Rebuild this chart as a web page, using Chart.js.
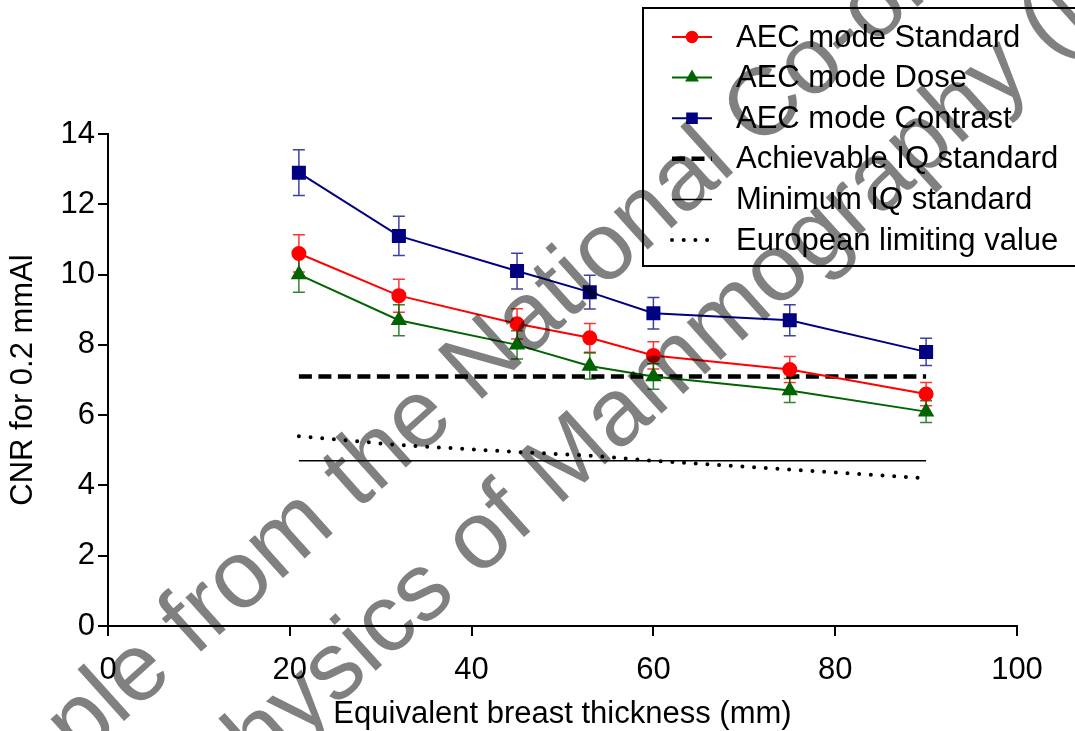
<!DOCTYPE html>
<html>
<head>
<meta charset="utf-8">
<title>CNR vs equivalent breast thickness</title>
<script src="https://cdn.jsdelivr.net/npm/chart.js@4.4.1/dist/chart.umd.min.js"></script>
<style>
  html, body { margin: 0; padding: 0; background: #fff; }
  #wrap { width: 1075px; height: 731px; position: relative; }
</style>
</head>
<body>
<div id="wrap"><canvas id="chart"></canvas></div>
<script>
// Values
const thickness = [21, 32, 45, 53, 60, 75, 90];
const cnrStandard = [10.6, 9.4, 8.6, 8.2, 7.7, 7.3, 6.6];
const cnrDose = [10.0, 8.7, 8.0, 7.4, 7.1, 6.7, 6.1];
const cnrContrast = [12.9, 11.1, 10.1, 9.5, 8.9, 8.7, 7.8];
const errStandard = [0.53, 0.47, 0.43, 0.41, 0.39, 0.37, 0.33];
const errDose = [0.50, 0.44, 0.40, 0.37, 0.36, 0.34, 0.31];
const errContrast = [0.65, 0.56, 0.51, 0.48, 0.45, 0.44, 0.39];

const limitThickness = [21, 90];
const achievableIQ = [7.1, 7.1];
const minimumIQ = [4.7, 4.7];
const europeanLimit = [5.4, 5.15, 4.95, 4.85, 4.7, 4.45, 4.2];

const xTicks = [0, 20, 40, 60, 80, 100];
const yTicks = [0, 2, 4, 6, 8, 10, 12, 14];

const seriesNames = [
    'AEC mode Standard',
    'AEC mode Dose',
    'AEC mode Contrast',
    'Achievable IQ standard',
    'Minimum IQ standard',
    'European limiting value'
];
const watermarkLines = [
    'Sample from the National Co-ordinating Centre for the',
    'Physics of Mammography (NCCPM)'
];

const FONT = '"Liberation Sans", Arial, sans-serif';

function pairs(xs, ys) {
    return xs.map((x, i) => ({ x: x, y: ys[i] }));
}

// error bars, drawn under the markers
const errorBars = {
    id: 'errorBars',
    beforeDatasetsDraw(chart) {
        const ctx = chart.ctx;
        const xs = chart.scales.x, ys = chart.scales.y;
        chart.data.datasets.forEach(ds => {
            if (!ds.errors) return;
            ctx.save();
            ctx.strokeStyle = ds.errorColor;
            ctx.lineWidth = 1.5;
            ds.data.forEach((p, j) => {
                const x = xs.getPixelForValue(p.x);
                const top = ys.getPixelForValue(p.y + ds.errors[j]);
                const bot = ys.getPixelForValue(p.y - ds.errors[j]);
                ctx.beginPath();
                ctx.moveTo(x, top); ctx.lineTo(x, bot);
                ctx.moveTo(x - 6, top); ctx.lineTo(x + 6, top);
                ctx.moveTo(x - 6, bot); ctx.lineTo(x + 6, bot);
                ctx.stroke();
            });
            ctx.restore();
        });
    }
};

// boxed legend in the top right corner
const boxLegend = {
    id: 'boxLegend',
    afterDatasetsDraw(chart) {
        const ctx = chart.ctx;
        ctx.save();
        ctx.fillStyle = '#fff';
        ctx.fillRect(643, 8, 440, 258);
        ctx.strokeStyle = '#000';
        ctx.lineWidth = 2;
        ctx.strokeRect(643, 8, 440, 258);
        ctx.font = '31px ' + FONT;
        ctx.textBaseline = 'middle';
        ctx.fillStyle = '#000';
        chart.data.datasets.forEach((ds, i) => {
            const y = 37 + i * 40.6;
            ctx.save();
            ctx.strokeStyle = ds.borderColor;
            ctx.lineWidth = ds.borderWidth;
            ctx.lineCap = ds.borderCapStyle || 'butt';
            ctx.setLineDash(ds.borderDash || []);
            ctx.beginPath();
            ctx.moveTo(672, y);
            ctx.lineTo(712, y);
            ctx.stroke();
            ctx.restore();
            if (ds.pointRadius > 0) {
                ctx.save();
                ctx.fillStyle = ds.pointBackgroundColor;
                ctx.strokeStyle = ds.pointBorderColor;
                Chart.helpers.drawPoint(ctx, {
                    pointStyle: ds.pointStyle,
                    radius: ds.pointRadius * 0.8,
                    rotation: 0,
                    borderWidth: 1
                }, 692, y);
                ctx.restore();
            }
            ctx.fillStyle = '#000';
            ctx.fillText(ds.label, 736, y + 1);
        });
        ctx.restore();
    }
};

// grey diagonal watermark over everything
const watermark = {
    id: 'watermark',
    afterDraw(chart) {
        const ctx = chart.ctx;
        ctx.save();
        ctx.globalCompositeOperation = 'multiply';
        ctx.fillStyle = '#808080';
        ctx.font = '96px ' + FONT;
        ctx.textBaseline = 'alphabetic';
        ctx.translate(-67, 893);
        ctx.rotate(-42 * Math.PI / 180);
        ctx.fillText(watermarkLines[0], 0, 0);
        ctx.fillText(watermarkLines[1], 258, 131);
        ctx.restore();
    }
};

const ctx = document.getElementById('chart').getContext('2d');

new Chart(ctx, {
    type: 'line',
    data: {
        datasets: [
            {
                label: seriesNames[0],
                data: pairs(thickness, cnrStandard),
                errors: errStandard,
                errorColor: 'rgba(255,0,0,0.8)',
                borderColor: '#ff0000',
                borderWidth: 2,
                pointStyle: 'circle',
                pointRadius: 6.5,
                pointBackgroundColor: '#ff0000',
                pointBorderColor: '#ff0000',
                order: 3
            },
            {
                label: seriesNames[1],
                data: pairs(thickness, cnrDose),
                errors: errDose,
                errorColor: 'rgba(0,100,0,0.8)',
                borderColor: '#006400',
                borderWidth: 2,
                pointStyle: 'triangle',
                pointRadius: 7.5,
                pointBackgroundColor: '#006400',
                pointBorderColor: '#006400',
                order: 2
            },
            {
                label: seriesNames[2],
                data: pairs(thickness, cnrContrast),
                errors: errContrast,
                errorColor: 'rgba(0,0,128,0.75)',
                borderColor: '#000080',
                borderWidth: 2,
                pointStyle: 'rect',
                pointRadius: 8.5,
                pointBackgroundColor: '#000080',
                pointBorderColor: '#000080',
                order: 1
            },
            {
                label: seriesNames[3],
                data: pairs(limitThickness, achievableIQ),
                borderColor: '#000',
                borderWidth: 4.5,
                borderDash: [13, 6.5],
                pointRadius: 0,
                order: 4
            },
            {
                label: seriesNames[4],
                data: pairs(limitThickness, minimumIQ),
                borderColor: '#000',
                borderWidth: 1.5,
                pointRadius: 0,
                order: 5
            },
            {
                label: seriesNames[5],
                data: pairs(thickness, europeanLimit),
                borderColor: '#000',
                borderWidth: 4,
                borderDash: [0, 11.7],
                borderCapStyle: 'round',
                pointRadius: 0,
                order: 6
            }
        ]
    },
    options: {
        responsive: true,
        maintainAspectRatio: false,
        animation: false,
        layout: { padding: { top: 134, right: 58, left: 0, bottom: 0 } },
        plugins: {
            legend: { display: false },
            tooltip: { enabled: false }
        },
        elements: { line: { tension: 0, fill: false } },
        scales: {
            x: {
                type: 'linear',
                min: 0,
                max: 100,
                afterBuildTicks: s => { s.ticks = xTicks.map(v => ({ value: v })); },
                afterFit: s => { s.height = 105; },
                ticks: { color: '#000', font: { family: FONT, size: 31 }, padding: 16, maxRotation: 0 },
                grid: { display: true, drawOnChartArea: false, drawTicks: true, tickLength: 10, color: '#000', lineWidth: 2 },
                border: { display: true, color: '#000', width: 2 },
                title: {
                    display: true,
                    text: 'Equivalent breast thickness (mm)',
                    color: '#000',
                    font: { family: FONT, size: 31 },
                    padding: { top: 0, bottom: -2 }
                }
            },
            y: {
                min: 0,
                max: 14,
                afterBuildTicks: s => { s.ticks = yTicks.map(v => ({ value: v })); },
                afterFit: s => { s.width = 108; },
                ticks: { color: '#000', font: { family: FONT, size: 31 }, padding: 3 },
                grid: { display: true, drawOnChartArea: false, drawTicks: true, tickLength: 10, color: '#000', lineWidth: 2 },
                border: { display: true, color: '#000', width: 2 },
                title: {
                    display: true,
                    text: 'CNR for 0.2 mmAl',
                    color: '#000',
                    font: { family: FONT, size: 31 },
                    padding: { top: 5, bottom: 0 }
                }
            }
        }
    },
    plugins: [errorBars, boxLegend, watermark]
});
</script>
</body>
</html>
